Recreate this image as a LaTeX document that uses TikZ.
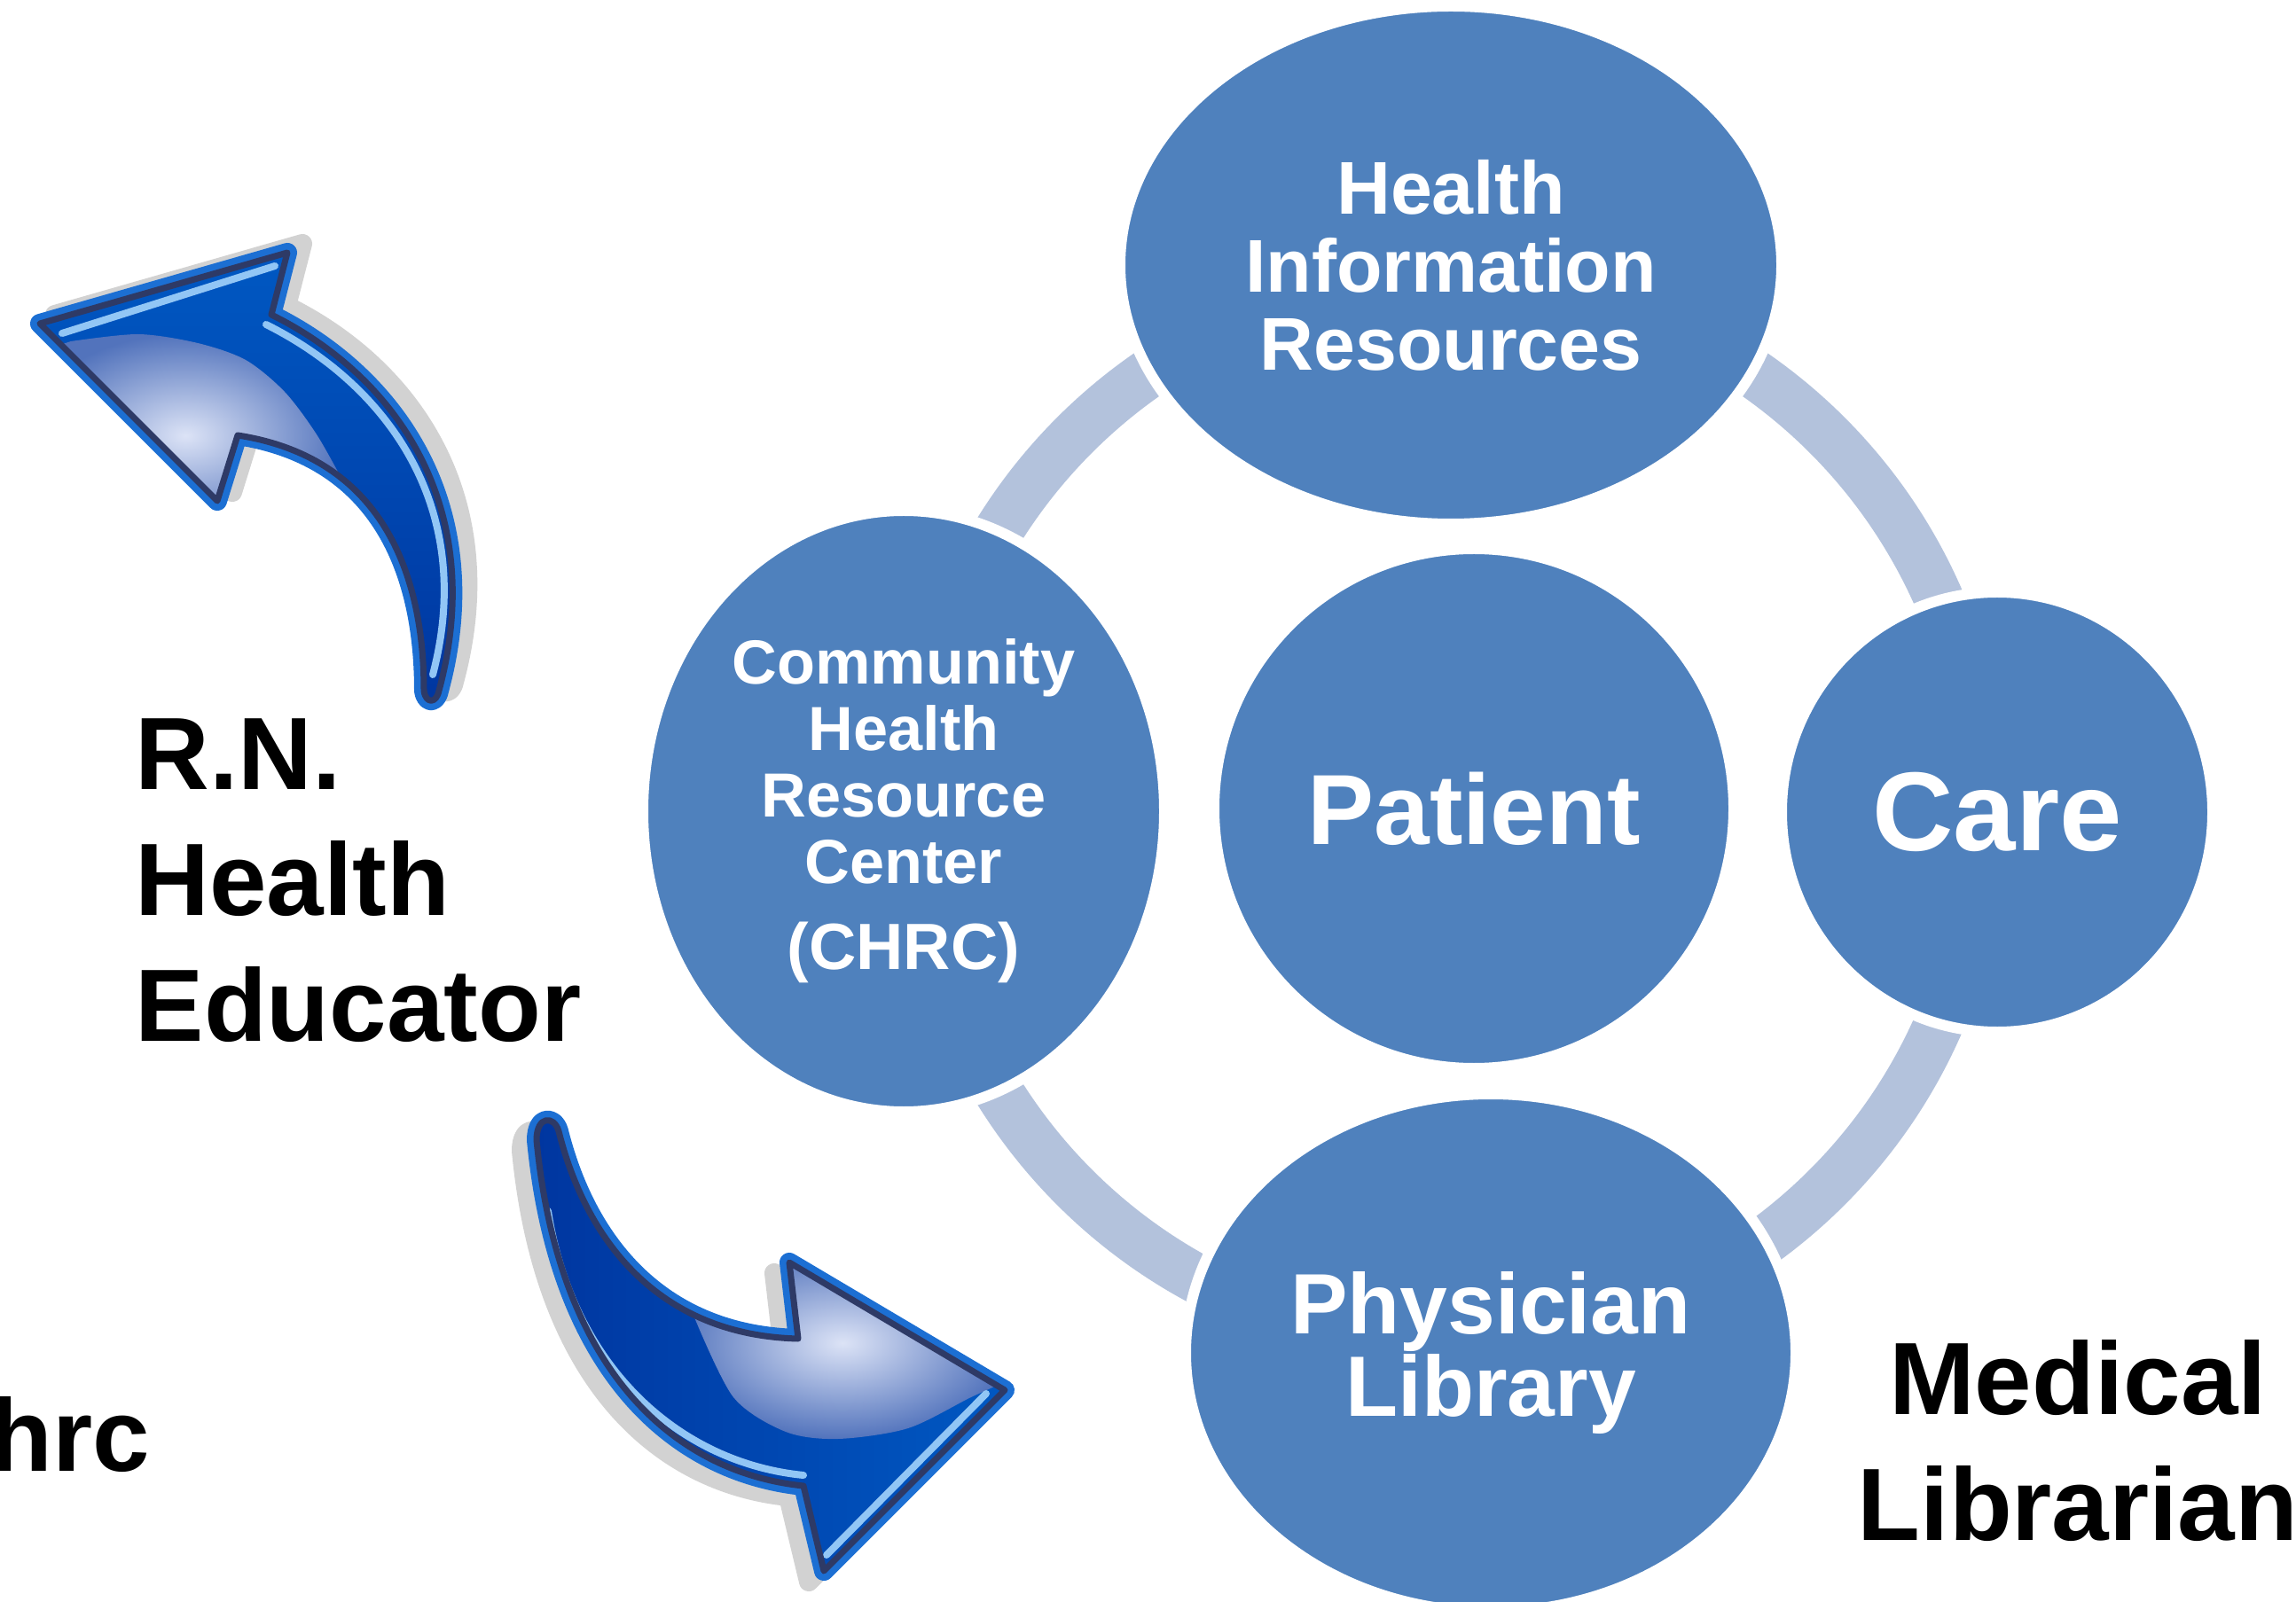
\documentclass[tikz,border=0pt]{standalone}
\usepackage{fontspec}
\setmainfont{Liberation Sans}
\usepackage{tikz}
\usetikzlibrary{shapes.geometric}

\definecolor{bubbleblue}{HTML}{4F81BD}
\definecolor{ringblue}{HTML}{B3C2DC}
\definecolor{arrowrim}{HTML}{1C6FD3}
\definecolor{arrownavy}{HTML}{2E3A66}
\definecolor{arrowdark}{HTML}{0036A0}
\definecolor{arrowmid}{HTML}{0058C2}
\definecolor{arrowlight}{HTML}{92C6F5}
\definecolor{glosslight}{HTML}{DCE3F6}
\definecolor{glossdark}{HTML}{5273BC}
\definecolor{shadowgray}{HTML}{D2D2D2}

\tikzset{
  bubble/.style={ellipse, fill=bubbleblue, draw=white, line width=0.12cm, inner sep=0pt, text=white, align=center},
  ringline/.style={draw=ringblue, line width=0.56cm},
  role/.style={inner sep=0pt, align=center, font=\fontsize{33pt}{40.4pt}\selectfont\bfseries},
  arrowshadow/.style={fill=shadowgray, draw=shadowgray, line width=0.22cm, line join=round},
  arrowrimline/.style={draw=arrowrim, line width=0.22cm, line join=round},
  arrownavyline/.style={draw=arrownavy, line width=0.07cm, line join=round},
  stripe/.style={draw=arrowlight, line width=0.08cm, line cap=round}
}

% outlines of the two curved arrows
\newcommand\backarrow{(0.45,14.41) -- (3.24,15.21) -- (3.06,14.51) .. controls (4.5,13.8) and (5.5,12.3) .. (4.95,10.27) .. controls (4.92,10.12) and (4.80,10.12) .. (4.78,10.27) .. controls (4.78,11.6) and (4.3,12.9) .. (2.68,13.15) -- (2.45,12.41) -- cycle}
\newcommand\fwdarrow{(9.00,2.96) -- (8.90,3.82) -- (11.33,2.38) -- (9.29,0.34) -- (9.06,1.30) .. controls (7.6,1.45) and (6.3,2.6) .. (6.05,5.20) .. controls (6.05,5.48) and (6.25,5.48) .. (6.30,5.30) .. controls (6.6,4.1) and (7.4,3.0) .. (9.00,2.96) -- cycle}

\begin{document}
\begin{tikzpicture}
\useasboundingbox (0,0) rectangle (25.89,18.06);
\clip (0,0) rectangle (25.89,18.06);

% ring behind the bubbles
\coordinate (hub) at (16.36,8.91);
\draw[ringline] (hub) circle (6.0);

\node[bubble, minimum width=7.46cm, minimum height=5.84cm, font=\fontsize{24pt}{25pt}\selectfont\bfseries] (hir) at (16.36,15.07) {Health\\Information\\Resources};
\node[bubble, minimum width=5.88cm, minimum height=6.78cm, font=\fontsize{20pt}{21.3pt}\selectfont\bfseries] (chrc) at (10.19,8.91) {Community\\Health\\Resource\\Center\\[6.5pt]{\fontsize{21pt}{21pt}\selectfont (CHRC)}};
\node[bubble, minimum width=5.86cm, minimum height=5.86cm, font=\fontsize{32pt}{32pt}\selectfont\bfseries] (patient) at (16.62,8.94) {Patient};
\node[bubble, minimum width=4.86cm, minimum height=4.96cm, font=\fontsize{36pt}{36pt}\selectfont\bfseries] (care) at (22.52,8.90) {Care};
\node[bubble, minimum width=6.88cm, minimum height=5.84cm, font=\fontsize{27.5pt}{26.7pt}\selectfont\bfseries] (library) at (16.81,2.80) {Physician\\Library};

\node[role, align=left, anchor=north west] (nurse) at (1.52,9.96) {R.N.\\Health\\Educator};
\node[role, anchor=north] (librarian) at (23.43,2.95) {Medical\\Librarian};
\node[role, anchor=north east] (hrc) at (1.70,2.31) {hrc};

% upper arrow, pointing back up and left
\path[arrowshadow, shift={(0.17,0.10)}] \backarrow;
\path[arrowrimline] \backarrow;
\shade[top color=arrowmid, bottom color=arrowdark] \backarrow;
\begin{scope}
\clip \backarrow;
\shade[inner color=glosslight, outer color=glossdark] (0.30,14.05) -- plot[smooth] coordinates {(0.80,14.21) (1.56,14.29) (2.23,14.19) (2.77,14.00) (3.21,13.64) (3.57,13.16) (3.88,12.61)} -- (3.50,12.20) -- (2.45,12.00) -- cycle;
\draw[stripe] (0.70,14.30) -- (3.10,15.06);
\draw[stripe] (3.00,14.40) .. controls (4.40,13.70) and (5.37,12.30) .. (4.88,10.45);
\end{scope}
\path[arrownavyline] \backarrow;

% lower arrow, pointing forward and right
\path[arrowshadow, shift={(-0.17,-0.12)}] \fwdarrow;
\path[arrowrimline] \fwdarrow;
\shade[left color=arrowdark, right color=arrowmid] \fwdarrow;
\begin{scope}
\clip \fwdarrow;
\shade[inner color=glosslight, outer color=glossdark] (7.60,3.40) -- plot[smooth] coordinates {(7.83,3.20) (8.27,2.30) (8.86,1.91) (9.45,1.83) (10.24,1.95) (10.95,2.30) (11.40,2.50)} -- (9.00,4.00) -- cycle;
\draw[stripe] (9.06,1.42) .. controls (7.65,1.56) and (6.45,2.65) .. (6.18,4.40);
\draw[stripe] (9.32,0.52) -- (11.12,2.34);
\end{scope}
\path[arrownavyline] \fwdarrow;
\end{tikzpicture}
\end{document}
